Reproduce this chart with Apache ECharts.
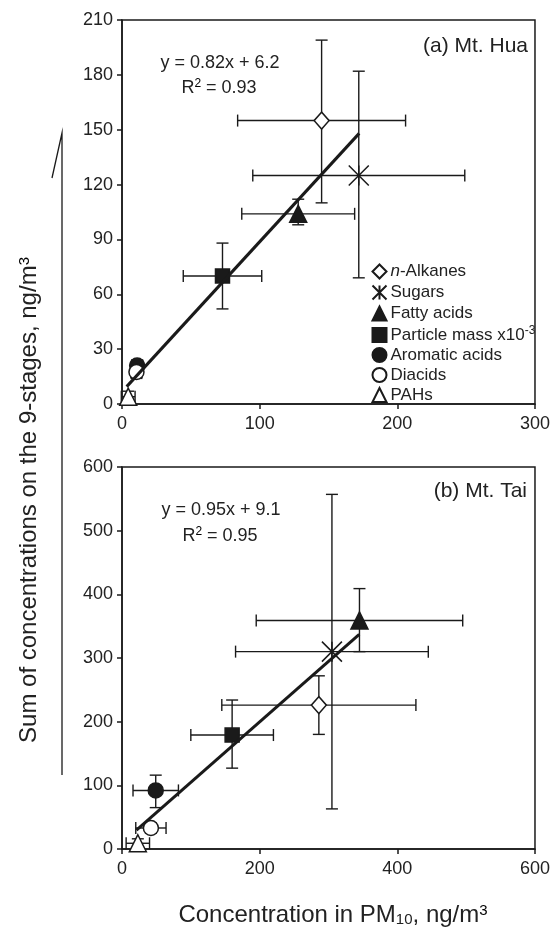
<!DOCTYPE html>
<html>
<head>
<meta charset="utf-8">
<script src="https://cdn.jsdelivr.net/npm/echarts@6/dist/echarts.min.js"></script>
<style>
  html, body { margin: 0; padding: 0; background: #fff; }
  #chart { width: 553px; height: 928px; }
</style>
</head>
<body>
<div id="chart"></div>
<script>
// Komponenten (gleiche Reihenfolge in beiden Panels)
const names = ['n-Alkanes', 'Sugars', 'Fatty acids', 'Particle mass x10-3', 'Aromatic acids', 'Diacids', 'PAHs'];

// (a) Mt. Hua
const huaX = [145, 172, 128, 73, 11, 10.5, 4.5];
const huaY = [155, 125, 104, 70, 21, 17.5, 4];
const huaXErr = [61, 77, 41, 28.5, 4, 4, 5];
const huaYLow = [110, 69, 98, 52, 18, 14, 1];
const huaYHigh = [199, 182, 112, 88, 24, 21, 7];
const huaFitX = [3.4, 172.3];
const huaFitY = [9.5, 148];

// (b) Mt. Tai
const taiX = [286, 305, 345, 160, 49, 42, 23];
const taiY = [226, 310, 359, 179, 92, 33, 9];
const taiXErr = [141, 140, 150, 60, 33, 22, 17];
const taiYLow = [180, 63, 310, 127, 65, 25, 2];
const taiYHigh = [272, 557, 409, 234, 116, 41, 16];
const taiFitX = [21, 344.7];
const taiFitY = [29.8, 337];

const huaTicksX = [0, 100, 200, 300];
const taiTicksX = [0, 200, 400, 600];

const FONT = 'Liberation Sans, Arial, sans-serif';
const INK = '#1a1a1a';
const TXT = '#222';

// Marker je Komponente
const symbols = [
  { symbol: 'diamond', size: [15, 17], fill: '#fff' },
  { symbol: 'path://M0,0L20,20M20,0L0,20M10,0L10,20', size: 20, fill: 'none' },
  { symbol: 'triangle', size: 17, fill: INK },
  { symbol: 'rect', size: 14, fill: INK },
  { symbol: 'circle', size: 15, fill: INK },
  { symbol: 'circle', size: 15, fill: '#fff' },
  { symbol: 'triangle', size: 17, fill: '#fff' }
];

function errRender(params, api) {
  const x = api.value(0), y = api.value(1), xe = api.value(2);
  const yl = api.value(3), yh = api.value(4);
  const l = api.coord([x - xe, y]), r = api.coord([x + xe, y]);
  const b = api.coord([x, yl]), t = api.coord([x, yh]);
  const cap = 6;
  const style = { stroke: INK, lineWidth: 1.4 };
  const seg = (x1, y1, x2, y2) => ({ type: 'line', shape: { x1, y1, x2, y2 }, style });
  return {
    type: 'group',
    children: [
      seg(l[0], l[1], r[0], r[1]),
      seg(l[0], l[1] - cap, l[0], l[1] + cap),
      seg(r[0], r[1] - cap, r[0], r[1] + cap),
      seg(b[0], b[1], t[0], t[1]),
      seg(b[0] - cap, b[1], b[0] + cap, b[1]),
      seg(t[0] - cap, t[1], t[0] + cap, t[1])
    ]
  };
}

function panelSeries(idx, xs, ys, xe, yl, yh, fitX, fitY) {
  const out = [];
  out.push({
    type: 'custom',
    xAxisIndex: idx, yAxisIndex: idx,
    renderItem: errRender,
    data: xs.map((v, i) => [v, ys[i], xe[i], yl[i], yh[i]]),
    z: 1, silent: true
  });
  out.push({
    type: 'line',
    xAxisIndex: idx, yAxisIndex: idx,
    data: fitX.map((v, i) => [v, fitY[i]]),
    symbol: 'none',
    lineStyle: { color: INK, width: 3 },
    z: 3, silent: true
  });
  names.forEach((n, i) => {
    const s = symbols[i];
    out.push({
      name: n,
      type: 'scatter',
      xAxisIndex: idx, yAxisIndex: idx,
      symbol: s.symbol,
      symbolSize: s.size,
      itemStyle: { color: s.fill, borderColor: INK, borderWidth: 1.5, opacity: 1 },
      data: [[xs[i], ys[i]]],
      z: 2
    });
  });
  return out;
}

const axisLine = { lineStyle: { color: INK, width: 1.5 } };
const axisTick = { inside: false, length: 5, lineStyle: { color: INK, width: 1.5 } };
const xLabel = { color: TXT, fontSize: 18, fontFamily: FONT, margin: 11 };
const yLabel = { color: TXT, fontSize: 18, fontFamily: FONT, margin: 9 };

const supRich = (size) => ({ fontSize: size, fontFamily: FONT, color: TXT, verticalAlign: 'top', padding: [0, 0, 9, 0] });

const chart = echarts.init(document.getElementById('chart'));

const option = {
  backgroundColor: '#fff',
  animation: false,
  grid: [
    { left: 122, width: 415, top: 20, height: 384, show: true, borderColor: INK, borderWidth: 1.5 },
    { left: 122, width: 415, top: 467, height: 382, show: true, borderColor: INK, borderWidth: 1.5 }
  ],
  xAxis: [
    { type: 'value', gridIndex: 0, min: huaTicksX[0], max: huaTicksX[huaTicksX.length - 1], interval: 100,
      axisLine, axisTick, axisLabel: xLabel, splitLine: { show: false } },
    { type: 'value', gridIndex: 1, min: taiTicksX[0], max: taiTicksX[taiTicksX.length - 1], interval: 200,
      axisLine, axisTick, axisLabel: xLabel, splitLine: { show: false } }
  ],
  yAxis: [
    { type: 'value', gridIndex: 0, min: 0, max: 210, interval: 30, axisLine, axisTick, axisLabel: yLabel, splitLine: { show: false } },
    { type: 'value', gridIndex: 1, min: 0, max: 600, interval: 100, axisLine, axisTick, axisLabel: yLabel, splitLine: { show: false } }
  ],
  legend: {
    orient: 'vertical',
    left: 370,
    top: 263,
    padding: 0,
    itemGap: 3,
    itemWidth: 14,
    itemHeight: 14,
    data: names,
    selectedMode: false,
    textStyle: {
      color: TXT, fontSize: 17, fontFamily: FONT, padding: [0, 0, 0, -1],
      rich: {
        it: { fontStyle: 'italic', fontSize: 17, fontFamily: FONT, color: TXT },
        sup: { fontSize: 12, fontFamily: FONT, color: TXT, verticalAlign: 'top', padding: [0, 0, 8, 0] }
      }
    },
    formatter: function (n) {
      if (n === 'n-Alkanes') return '{it|n}-Alkanes';
      if (n === 'Particle mass x10-3') return 'Particle mass x10{sup|-3}';
      return n;
    }
  },
  graphic: [
    // Gleichungen und Panel-Titel
    { type: 'text', x: 220, y: 63, style: { text: 'y = 0.82x + 6.2', fill: TXT, font: '18px ' + FONT, textAlign: 'center', textVerticalAlign: 'middle' } },
    { type: 'text', x: 219, y: 88, style: {
      text: '{a|R}{s|2}{a| = 0.93}', textAlign: 'center', textVerticalAlign: 'middle',
      rich: { a: { fontSize: 18, fontFamily: FONT, fill: TXT }, s: supRich(12) }
    } },
    { type: 'text', x: 528, y: 46, style: { text: '(a) Mt. Hua', fill: TXT, font: '21px ' + FONT, textAlign: 'right', textVerticalAlign: 'middle' } },
    { type: 'text', x: 221, y: 510, style: { text: 'y = 0.95x + 9.1', fill: TXT, font: '18px ' + FONT, textAlign: 'center', textVerticalAlign: 'middle' } },
    { type: 'text', x: 220, y: 536, style: {
      text: '{a|R}{s|2}{a| = 0.95}', textAlign: 'center', textVerticalAlign: 'middle',
      rich: { a: { fontSize: 18, fontFamily: FONT, fill: TXT }, s: supRich(12) }
    } },
    { type: 'text', x: 527, y: 491, style: { text: '(b) Mt. Tai', fill: TXT, font: '21px ' + FONT, textAlign: 'right', textVerticalAlign: 'middle' } },
    // Achsentitel
    { type: 'text', x: 333, y: 915, style: {
      text: '{a|Concentration in PM}{b|10}{a|, ng/m}{s|3}', textAlign: 'center', textVerticalAlign: 'middle',
      rich: {
        a: { fontSize: 24, fontFamily: FONT, fill: TXT },
        b: { fontSize: 15, fontFamily: FONT, fill: TXT, verticalAlign: 'bottom', padding: [5, 0, 0, 0] },
        s: supRich(15)
      }
    } },
    { type: 'text', x: 29, y: 500, rotation: Math.PI / 2, style: {
      text: '{a|Sum of concentrations on the 9-stages, ng/m}{s|3}', textAlign: 'center', textVerticalAlign: 'middle',
      rich: {
        a: { fontSize: 24, fontFamily: FONT, fill: TXT },
        s: supRich(15)
      }
    } },
    // Strich neben dem Achsentitel
    { type: 'polyline', shape: { points: [[52, 178], [62, 133], [62, 775]] }, style: { stroke: INK, lineWidth: 1.3, fill: 'none' } }
  ],
  series: [].concat(
    panelSeries(0, huaX, huaY, huaXErr, huaYLow, huaYHigh, huaFitX, huaFitY),
    panelSeries(1, taiX, taiY, taiXErr, taiYLow, taiYHigh, taiFitX, taiFitY)
  )
};

chart.setOption(option);
window.addEventListener('resize', () => chart.resize());
</script>
</body>
</html>
